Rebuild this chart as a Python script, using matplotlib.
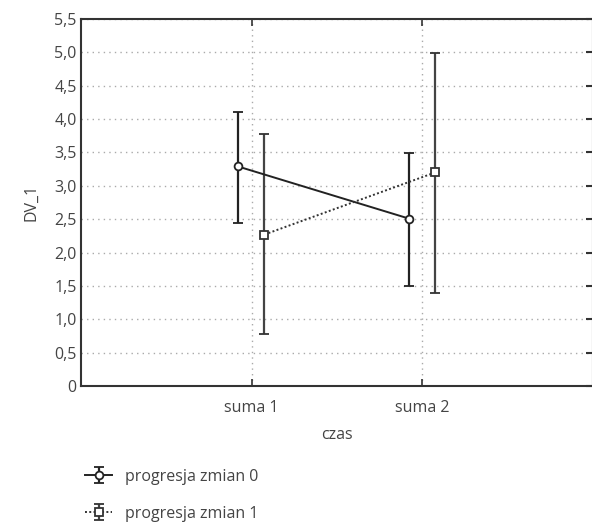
import matplotlib
matplotlib.use("Agg")
import matplotlib.pyplot as plt
from matplotlib.ticker import FuncFormatter
import numpy as np

categories = ["suma 1", "suma 2"]
series_names = ["progresja zmian 0", "progresja zmian 1"]
means_0 = [3.29, 2.51]
lower_0 = [2.45, 1.50]
upper_0 = [4.10, 3.49]
means_1 = [2.27, 3.20]
lower_1 = [0.775, 1.39]
upper_1 = [3.78, 4.99]
y_ticks = [0, 0.5, 1.0, 1.5, 2.0, 2.5, 3.0, 3.5, 4.0, 4.5, 5.0, 5.5]

plt.rcParams['font.family'] = ['Open Sans', 'DejaVu Sans']
txt = '#444444'
fs = 11.5

fig = plt.figure(figsize=(5.92, 5.22), dpi=100)
ax = fig.add_axes([81/592, (522-386)/522, 512/592, (386-19)/522])

xpos = np.arange(1, len(categories) + 1)
off0, off1 = -0.08, 0.075

def err(m, lo, hi):
    m, lo, hi = map(np.asarray, (m, lo, hi))
    return np.vstack([m - lo, hi - m])

h0 = ax.errorbar(xpos + off0, means_0, yerr=err(means_0, lower_0, upper_0),
                 color='#222222', lw=1.4, ls='-', marker='o', ms=5.6,
                 mfc='white', mec='#222222', mew=1.3, capsize=3.7, capthick=1.8,
                 elinewidth=1.6, zorder=3)
h1 = ax.errorbar(xpos + off1, means_1, yerr=err(means_1, lower_1, upper_1),
                 color='#333333', lw=1.4, ls=(0, (1, 1.2)), marker='s', ms=5.4,
                 mfc='white', mec='#333333', mew=1.3, capsize=3.7, capthick=1.8,
                 elinewidth=1.6, zorder=3)
for bar in h1[2]:
    bar.set_linestyle('-')
    bar.set_color('#444444')

ax.set_xlim(0, 3)
ax.set_ylim(0, 5.5)
ax.set_xticks(xpos)
ax.set_xticklabels(categories)
ax.set_yticks(y_ticks)
ax.yaxis.set_major_formatter(FuncFormatter(
    lambda v, p: "0" if v == 0 else f"{v:.1f}".replace('.', ',')))

ax.grid(True, ls=(0, (1, 3)), color='#aaaaaa', lw=1.0)
ax.set_axisbelow(True)

for s in ax.spines.values():
    s.set_color('#333333')
    s.set_linewidth(1.5)

ax.tick_params(axis='y', left=False, right=True, direction='in', length=5,
               width=1.5, color='#333333', labelcolor=txt, labelsize=fs, pad=3)
ax.tick_params(axis='x', bottom=True, top=True, direction='in', length=5,
               width=1.2, color='#333333', labelcolor=txt, labelsize=fs, pad=10)

ax.set_xlabel("czas", color=txt, fontsize=fs, labelpad=8)
ax.set_ylabel("DV_1", color=txt, fontsize=fs, labelpad=11)

fig.legend([h0, h1], series_names, loc='upper left',
           bbox_to_anchor=(85/592, 1 - 469/522), frameon=False,
           fontsize=fs, labelcolor=txt, handlelength=1.7,
           handletextpad=0.8, labelspacing=1.3, borderaxespad=0,
           borderpad=0)

fig.savefig("out.png", dpi=100)
